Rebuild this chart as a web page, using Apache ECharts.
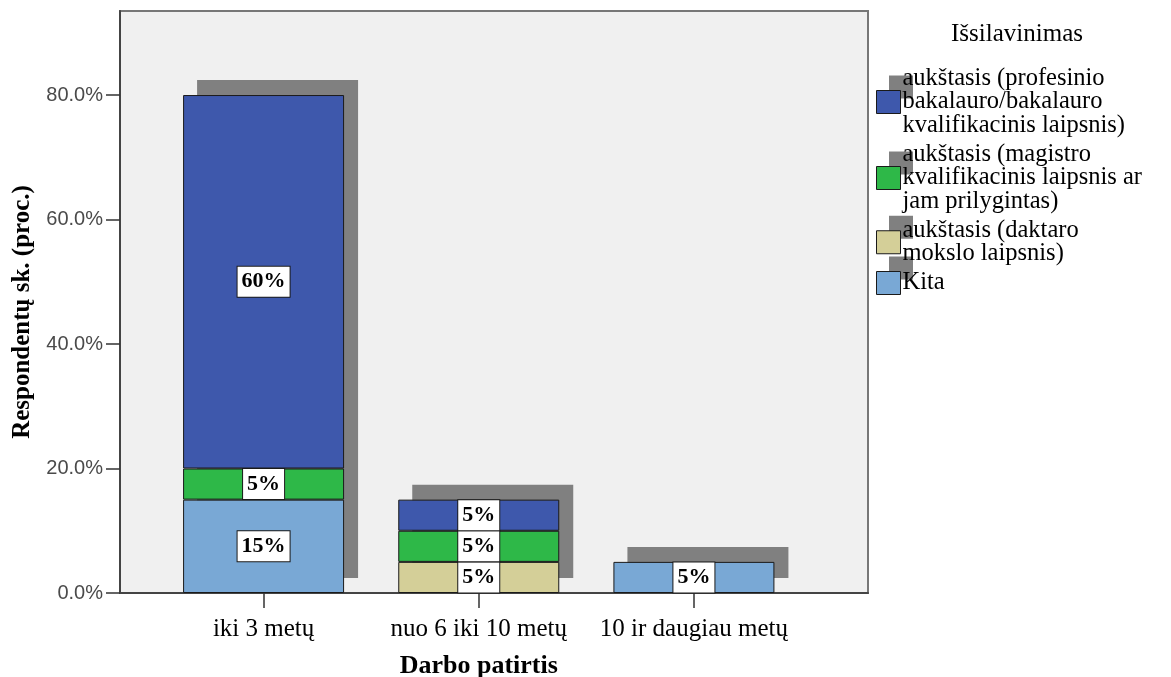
<!DOCTYPE html>
<html>
<head>
<meta charset="utf-8">
<script src="https://cdn.jsdelivr.net/npm/echarts@6/dist/echarts.min.js"></script>
<style>
  html, body { margin: 0; padding: 0; background: #ffffff; }
  #chart { width: 1171px; height: 677px; }
</style>
</head>
<body>
<div id="chart"></div>
<script>
// Work experience groups on the x axis
const categories = ['iki 3 metų', 'nuo 6 iki 10 metų', '10 ir daugiau metų'];

// Education level shares (% of respondents), per experience group
const kita = [15, 0, 5];
const daktaro = [0, 5, 0];
const magistro = [5, 5, 0];
const bakalauro = [60, 5, 0];

const seriesNames = {
  bakalauro: 'aukštasis (profesinio\nbakalauro/bakalauro\nkvalifikacinis laipsnis)',
  magistro: 'aukštasis (magistro\nkvalifikacinis laipsnis ar\njam prilygintas)',
  daktaro: 'aukštasis (daktaro\nmokslo laipsnis)',
  kita: 'Kita'
};
const legendOrder = [seriesNames.bakalauro, seriesNames.magistro, seriesNames.daktaro, seriesNames.kita];

const yTicks = [0, 20, 40, 60, 80];
const yMax = 93.5;

// stack heights, used for the drop shadow behind each bar
const totals = categories.map((_, i) => kita[i] + daktaro[i] + magistro[i] + bakalauro[i]);

const serif = '"Liberation Serif", "Times New Roman", serif';
const sans = '"Liberation Sans", Arial, sans-serif';

const colors = {
  bakalauro: '#3E58AC',
  magistro: '#2EB848',
  daktaro: '#D4CF98',
  kita: '#79A8D5'
};
const shadowGray = '#808080';

function barSeries(name, data, color) {
  return {
    type: 'bar',
    name: name,
    stack: 'total',
    xAxisIndex: 1,
    yAxisIndex: 1,
    barWidth: 161,
    z: 3,
    data: data.map(v => (v > 0 ? v : null)),
    itemStyle: {
      color: color,
      borderColor: '#1a1a1a',
      borderWidth: 1
    },
    label: {
      show: true,
      position: 'inside',
      formatter: p => p.value + '%',
      fontFamily: serif,
      fontWeight: 'bold',
      fontSize: 22,
      color: '#000',
      backgroundColor: '#ffffff',
      borderColor: '#1a1a1a',
      borderWidth: 1,
      padding: [4, 4, 3, 4],
      lineHeight: 23
    },
    emphasis: { disabled: true }
  };
}

const legendCommon = {
  orient: 'vertical',
  left: 876,
  top: 66,
  padding: 0,
  itemWidth: 24,
  itemHeight: 23,
  itemGap: 4,
  icon: 'rect',
  selectedMode: false,
  data: legendOrder,
  textStyle: {
    fontFamily: serif,
    fontSize: 24.5,
    lineHeight: 23.5,
    color: '#000',
    padding: [0, 0, 0, -3]
  }
};

const gridBox = { top: 11, height: 582 };

const option = {
  animation: false,
  backgroundColor: '#ffffff',
  title: {
    text: 'Išsilavinimas',
    left: 1017,
    top: 22,
    padding: 0,
    textAlign: 'center',
    textStyle: { fontFamily: serif, fontSize: 25, fontWeight: 'normal', color: '#000' }
  },
  legend: [
    // gray offset blocks behind the swatches
    Object.assign({}, legendCommon, {
      left: 889,
      top: 51,
      z: 1,
      itemStyle: { color: shadowGray, borderWidth: 0 },
      textStyle: Object.assign({}, legendCommon.textStyle, { color: 'rgba(0,0,0,0)' })
    }),
    Object.assign({}, legendCommon, {
      z: 5,
      itemStyle: { borderColor: '#1a1a1a', borderWidth: 1 }
    })
  ],
  grid: [
    {
      left: 120, top: gridBox.top, width: 748, height: gridBox.height,
      show: true,
      backgroundColor: '#F0F0F0',
      borderColor: '#777',
      borderWidth: 2,
      containLabel: false,
      outerBoundsMode: 'none'
    },
    {
      left: 156, top: gridBox.top, width: 645.5, height: gridBox.height,
      containLabel: false,
      outerBoundsMode: 'none'
    },
    {
      // same plot shifted up and to the right, carries the shadows
      left: 170, top: gridBox.top - 15, width: 645.5, height: gridBox.height,
      containLabel: false,
      outerBoundsMode: 'none'
    }
  ],
  xAxis: [
    {
      gridIndex: 0,
      type: 'value',
      min: 0, max: 1,
      axisLine: { show: true, onZero: false, lineStyle: { color: '#444', width: 2 } },
      axisTick: { show: false },
      axisLabel: { show: false },
      splitLine: { show: false }
    },
    {
      gridIndex: 1,
      type: 'category',
      data: categories,
      axisLine: { show: false },
      axisTick: { show: true, alignWithLabel: true, length: 15, lineStyle: { color: '#333', width: 1.5 } },
      axisLabel: { fontFamily: serif, fontSize: 25, color: '#000', margin: 24, interval: 0, hideOverlap: false },
      name: 'Darbo patirtis',
      nameLocation: 'middle',
      nameGap: 60,
      nameTextStyle: { fontFamily: serif, fontWeight: 'bold', fontSize: 26, color: '#000' }
    },
    {
      gridIndex: 2,
      type: 'category',
      data: categories,
      show: false
    }
  ],
  yAxis: [
    {
      gridIndex: 0,
      type: 'value',
      min: 0, max: yMax,
      axisLine: { show: true, lineStyle: { color: '#444', width: 2 } },
      axisTick: { show: true, length: 14, customValues: yTicks, lineStyle: { color: '#333', width: 1.5 } },
      axisLabel: {
        fontFamily: sans, fontSize: 20, color: '#4a4a4a', margin: 17,
        customValues: yTicks,
        formatter: v => v.toFixed(1) + '%'
      },
      splitLine: { show: false },
      name: 'Respondentų sk. (proc.)',
      nameLocation: 'middle',
      nameGap: 84,
      nameRotate: 90,
      nameTextStyle: { fontFamily: serif, fontWeight: 'bold', fontSize: 25, color: '#000', padding: [0, 20, 0, 0] }
    },
    {
      gridIndex: 1,
      type: 'value',
      min: 0, max: yMax,
      show: false
    },
    {
      gridIndex: 2,
      type: 'value',
      min: 0, max: yMax,
      show: false
    }
  ],
  series: [
    {
      type: 'bar',
      name: 'shadow',
      xAxisIndex: 2,
      yAxisIndex: 2,
      barWidth: 161,
      z: 1,
      data: totals,
      itemStyle: { color: shadowGray },
      emphasis: { disabled: true },
      silent: true
    },
    barSeries(seriesNames.kita, kita, colors.kita),
    barSeries(seriesNames.daktaro, daktaro, colors.daktaro),
    barSeries(seriesNames.magistro, magistro, colors.magistro),
    barSeries(seriesNames.bakalauro, bakalauro, colors.bakalauro)
  ]
};

const chart = echarts.init(document.getElementById('chart'), null, { renderer: 'canvas' });
chart.setOption(option);
</script>
</body>
</html>
